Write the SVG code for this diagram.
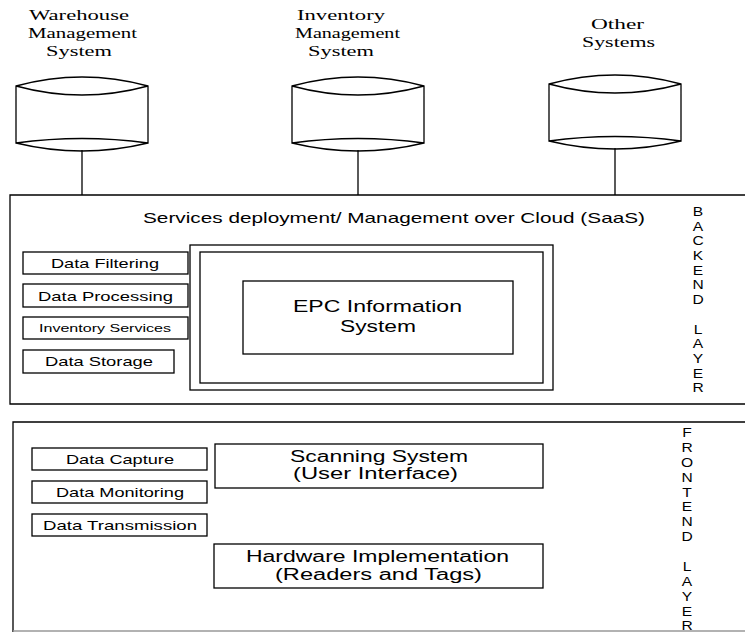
<svg xmlns="http://www.w3.org/2000/svg" width="745" height="632" viewBox="0 0 745 632">
<style>
.s{fill:none;stroke:#000;stroke-width:1.3}
.b{fill:#fff;stroke:#000;stroke-width:1.3}
.t{font-family:"Liberation Serif",serif;font-size:15.5px;fill:#000;text-anchor:middle}
.a{font-family:"Liberation Sans",Arial,sans-serif;fill:#000;text-anchor:middle}
.sm{font-size:13px}
.md{font-size:16px}
.v{font-size:12px}
</style>
<defs>
<path id="cyl" d="M0,9 Q66,-9 132,9 L132,66 Q66,57 0,66 Z M0,9 Q66,27 132,9 M0,66 Q66,82 132,66" />
</defs>
<rect width="745" height="632" fill="#fff"/>
<g id="connectors">
<line class="s" x1="82" y1="150" x2="82" y2="195"/>
<line class="s" x1="358" y1="150" x2="358" y2="195"/>
<line class="s" x1="615" y1="148" x2="615" y2="195"/>
</g>
<g id="wms">
<text class="t" x="79" y="20" textLength="100" lengthAdjust="spacingAndGlyphs">Warehouse</text>
<text class="t" x="82.5" y="38" textLength="109" lengthAdjust="spacingAndGlyphs">Management</text>
<text class="t" x="79" y="56" textLength="66" lengthAdjust="spacingAndGlyphs">System</text>
<use href="#cyl" class="s" transform="translate(16,77)"/>
</g>
<g id="ims">
<text class="t" x="341" y="20" textLength="88" lengthAdjust="spacingAndGlyphs">Inventory</text>
<text class="t" x="347.5" y="38" textLength="105" lengthAdjust="spacingAndGlyphs">Management</text>
<text class="t" x="341" y="56" textLength="66" lengthAdjust="spacingAndGlyphs">System</text>
<use href="#cyl" class="s" transform="translate(292,77)"/>
</g>
<g id="other">
<text class="t" x="617.5" y="29" textLength="53" lengthAdjust="spacingAndGlyphs">Other</text>
<text class="t" x="618.5" y="47" textLength="73" lengthAdjust="spacingAndGlyphs">Systems</text>
<use href="#cyl" class="s" transform="translate(549,75)"/>
</g>
<g id="backend">
<path class="s" d="M746,195 L10,195 L10,404 L746,404"/>
<text class="a" x="394" y="223" font-size="15" textLength="502" lengthAdjust="spacingAndGlyphs">Services deployment/ Management over Cloud (SaaS)</text>
<text class="a v" transform="translate(698,0) scale(1.3,1)">
<tspan x="0" y="216">B</tspan><tspan x="0" y="230.7">A</tspan><tspan x="0" y="245.4">C</tspan><tspan x="0" y="260.1">K</tspan><tspan x="0" y="274.8">E</tspan><tspan x="0" y="289.5">N</tspan><tspan x="0" y="304.2">D</tspan><tspan x="0" y="333.6">L</tspan><tspan x="0" y="348.3">A</tspan><tspan x="0" y="363">Y</tspan><tspan x="0" y="377.7">E</tspan><tspan x="0" y="392.4">R</tspan>
</text>
</g>
<g id="data-filtering"><rect class="b" x="23" y="252" width="165" height="22"/><text class="a sm" x="105" y="268" textLength="108" lengthAdjust="spacingAndGlyphs">Data Filtering</text></g>
<g id="data-processing"><rect class="b" x="23" y="284" width="165" height="23"/><text class="a sm" x="105.5" y="300.5" textLength="135" lengthAdjust="spacingAndGlyphs">Data Processing</text></g>
<g id="inventory-services"><rect class="b" x="23" y="317" width="165" height="22"/><text class="a" font-size="11.5" x="105" y="332" textLength="132" lengthAdjust="spacingAndGlyphs">Inventory Services</text></g>
<g id="data-storage"><rect class="b" x="23" y="350" width="151" height="23"/><text class="a sm" x="99" y="366" textLength="108" lengthAdjust="spacingAndGlyphs">Data Storage</text></g>
<g id="epc">
<rect class="s" x="190" y="245" width="363" height="145"/>
<rect class="s" x="200" y="252" width="343" height="131"/>
<rect class="s" x="243" y="281" width="270" height="73"/>
<text class="a md" x="377.5" y="312" textLength="169" lengthAdjust="spacingAndGlyphs">EPC Information</text>
<text class="a md" x="378" y="332" textLength="76" lengthAdjust="spacingAndGlyphs">System</text>
</g>
<g id="frontend">
<path class="s" d="M746,422 L13,422 L13,633"/>
<line x1="13" y1="631" x2="746" y2="631" stroke="#999" stroke-width="1.3"/>
<text class="a v" transform="translate(687,0) scale(1.3,1)">
<tspan x="0" y="437">F</tspan><tspan x="0" y="451.9">R</tspan><tspan x="0" y="466.8">O</tspan><tspan x="0" y="481.7">N</tspan><tspan x="0" y="496.6">T</tspan><tspan x="0" y="511.5">E</tspan><tspan x="0" y="526.4">N</tspan><tspan x="0" y="541.3">D</tspan><tspan x="0" y="571.5">L</tspan><tspan x="0" y="586.4">A</tspan><tspan x="0" y="601.3">Y</tspan><tspan x="0" y="616.2">E</tspan><tspan x="0" y="630.5">R</tspan>
</text>
</g>
<g id="data-capture"><rect class="b" x="32" y="448" width="175" height="22"/><text class="a sm" x="120" y="464" textLength="108" lengthAdjust="spacingAndGlyphs">Data Capture</text></g>
<g id="data-monitoring"><rect class="b" x="32" y="481" width="175" height="22"/><text class="a sm" x="120" y="497" textLength="128" lengthAdjust="spacingAndGlyphs">Data Monitoring</text></g>
<g id="data-transmission"><rect class="b" x="32" y="514" width="175" height="22"/><text class="a sm" x="120" y="530" textLength="154" lengthAdjust="spacingAndGlyphs">Data Transmission</text></g>
<g id="scanning"><rect class="b" x="215" y="444" width="328" height="44"/><text class="a md" x="379" y="462" textLength="178" lengthAdjust="spacingAndGlyphs">Scanning System</text><text class="a md" x="375.5" y="479" textLength="165" lengthAdjust="spacingAndGlyphs">(User Interface)</text></g>
<g id="hardware"><rect class="b" x="214" y="544" width="329" height="44"/><text class="a md" x="377.5" y="562" textLength="263" lengthAdjust="spacingAndGlyphs">Hardware Implementation</text><text class="a md" x="378.5" y="580" textLength="207" lengthAdjust="spacingAndGlyphs">(Readers and Tags)</text></g>
</svg>
